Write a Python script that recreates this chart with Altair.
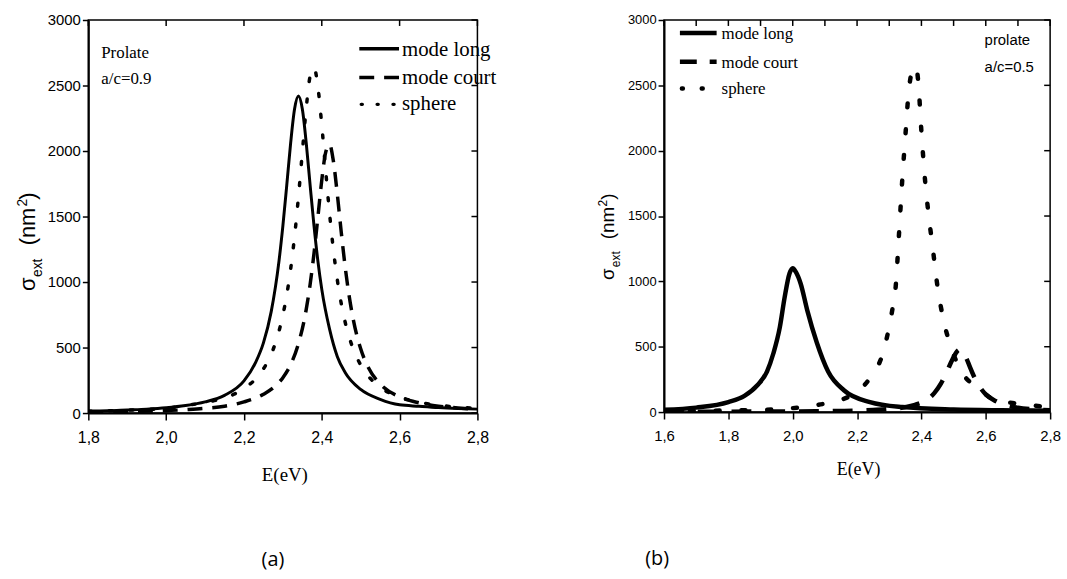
import altair as alt
import pandas as pd

# ---------------- panel (a): prolate a/c = 0.9 ----------------
a_long_E = [1.80, 1.85, 1.90, 1.95, 2.00, 2.05, 2.10, 2.15, 2.20, 2.23, 2.25, 2.27, 2.29, 2.30, 2.31,
            2.32, 2.33, 2.34, 2.35, 2.36, 2.37, 2.38, 2.39, 2.40, 2.42, 2.44, 2.46, 2.50, 2.55, 2.60,
            2.65, 2.70, 2.75, 2.80]
a_long_v = [15, 18, 24, 30, 40, 57, 85, 135, 245, 387, 536, 774, 1160, 1428, 1740,
            2062, 2320, 2420, 2320, 2062, 1740, 1428, 1160, 944, 640, 430, 310, 180, 105, 63,
            52, 42, 35, 30]

a_court_E = [1.80, 1.90, 2.00, 2.05, 2.10, 2.15, 2.20, 2.25, 2.28, 2.30, 2.32, 2.34, 2.36, 2.37, 2.38,
             2.39, 2.40, 2.41, 2.42, 2.43, 2.44, 2.45, 2.46, 2.47, 2.48, 2.50, 2.52, 2.55, 2.60, 2.65,
             2.70, 2.75, 2.80]
a_court_v = [8, 12, 18, 26, 36, 52, 85, 143, 205, 270, 370, 529, 791, 981, 1219,
             1496, 1778, 1990, 2050, 1919, 1668, 1381, 1118, 900, 728, 490, 346, 222, 123, 78,
             53, 39, 29]

a_sphere_E = [1.80, 1.90, 2.00, 2.05, 2.10, 2.15, 2.20, 2.24, 2.26, 2.28, 2.30, 2.31, 2.32, 2.33, 2.34,
              2.35, 2.36, 2.37, 2.38, 2.39, 2.40, 2.41, 2.42, 2.43, 2.44, 2.46, 2.48, 2.50, 2.55, 2.60,
              2.65, 2.70, 2.75, 2.80]
a_sphere_v = [14, 22, 36, 58, 80, 116, 186, 296, 388, 528, 748, 902, 1100, 1347, 1650,
              1990, 2326, 2571, 2636, 2490, 2197, 1851, 1522, 1242, 1015, 695, 495, 367, 198, 123,
              83, 60, 45, 35]

# ---------------- panel (b): prolate a/c = 0.5 ----------------
b_long_E = [1.60, 1.70, 1.80, 1.85, 1.89, 1.92, 1.94, 1.96, 1.975, 1.99, 2.00, 2.01, 2.025, 2.045,
            2.075, 2.11, 2.16, 2.24, 2.34, 2.50, 2.65, 2.80]
b_long_v = [18, 34, 76, 124, 205, 310, 450, 650, 880, 1060, 1100, 1070, 980, 780,
            530, 310, 165, 76, 38, 20, 14, 11]

b_court_E = [1.60, 1.80, 2.00, 2.10, 2.20, 2.25, 2.30, 2.35, 2.38, 2.40, 2.42, 2.44, 2.46, 2.48, 2.50,
             2.51, 2.52, 2.53, 2.54, 2.55, 2.56, 2.57, 2.60, 2.63, 2.66, 2.70, 2.75, 2.80]
b_court_v = [2, 3, 5, 7, 11, 16, 23, 38, 55, 72, 99, 145, 215, 315, 420,
             462, 478, 462, 410, 350, 291, 240, 135, 85, 55, 33, 21, 14]

b_sphere_E = [1.60, 1.70, 1.80, 1.90, 2.00, 2.06, 2.12, 2.18, 2.24, 2.28, 2.30, 2.31, 2.32, 2.33, 2.34,
              2.35, 2.36, 2.37, 2.383, 2.39, 2.40, 2.41, 2.42, 2.435, 2.45, 2.47, 2.49, 2.52, 2.58, 2.63,
              2.69, 2.75, 2.80]
b_sphere_v = [6, 9, 12, 16, 30, 48, 76, 126, 260, 450, 655, 790, 960, 1350, 1760,
              2110, 2440, 2600, 2645, 2530, 2145, 1810, 1560, 1260, 960, 690, 510, 330, 175, 92,
              68, 50, 32]

# ---------------- ticks and labels ----------------
a_xticks = [1.8, 2.0, 2.2, 2.4, 2.6, 2.8]
a_yticks = [0, 250, 500, 750, 1000, 1250, 1500, 1750, 2000, 2250, 2500, 2750, 3000]
b_xticks = [1.6, 1.7, 1.8, 1.9, 2.0, 2.1, 2.2, 2.3, 2.4, 2.5, 2.6, 2.7, 2.8]
b_yticks = [0, 500, 1000, 1500, 2000, 2500, 3000]
series_labels = ["mode long", "mode court", "sphere"]

WA, HA = 392, 396
WB, HB = 389, 395

SERIF = "Liberation Serif"
SANS = "Liberation Sans"
ONE = alt.Data(values=[{}])


def curve(E, v, xs, ys, width, dash=None, cap="butt", xaxis=None, yaxis=None):
    kw = dict(color="black", strokeWidth=width, interpolate="monotone", clip=True, strokeCap=cap)
    if dash:
        kw["strokeDash"] = dash
    xk = dict(scale=xs, title="")
    yk = dict(scale=ys, title="")
    if xaxis is not None:
        xk["axis"] = xaxis
    if yaxis is not None:
        yk["axis"] = yaxis
    return alt.Chart(pd.DataFrame({"E": E, "v": v})).mark_line(**kw).encode(
        x=alt.X("E:Q", **xk),
        y=alt.Y("v:Q", **yk),
    )


def top_ticks(vals, xs):
    return alt.Chart(pd.DataFrame({"t": vals})).mark_rule(color="black", strokeWidth=1.5).encode(
        x=alt.X("t:Q", scale=xs, title=""), y=alt.value(0), y2=alt.value(6))


def right_ticks(vals, ys, W):
    return alt.Chart(pd.DataFrame({"t": vals})).mark_rule(color="black", strokeWidth=1.5).encode(
        y=alt.Y("t:Q", scale=ys, title=""), x=alt.value(W), x2=alt.value(W - 6))


def label(text, x, y, size, font=SERIF, align="left", baseline="alphabetic", angle=0):
    kw = dict(text=text, fontSize=size, font=font, align=align, baseline=baseline, color="black")
    if angle:
        kw["angle"] = angle
    return alt.Chart(ONE).mark_text(**kw).encode(x=alt.value(x), y=alt.value(y))


def leg_line(x0, x1, y, width, dash=None, cap="butt"):
    kw = dict(color="black", strokeWidth=width, strokeCap=cap)
    if dash:
        kw["strokeDash"] = dash
    return alt.Chart(ONE).mark_rule(**kw).encode(x=alt.value(x0), x2=alt.value(x1), y=alt.value(y))


def ytitle(bx, ys, big, small, sup_dx, sub_dx):
    # sigma_ext (nm^2) rotated, built from pieces; bx = baseline x, ys = start y of each piece
    return [
        label("σ", bx, ys[0], big, font=SANS, angle=270),
        label("ext", bx + sub_dx, ys[1], small, font=SANS, angle=270),
        label("(nm", bx, ys[2], big, font=SANS, angle=270),
        label("2", bx - sup_dx, ys[3], small, font=SANS, angle=270),
        label(")", bx, ys[4], big, font=SANS, angle=270),
    ]


fmt_x = "replace(format(datum.value, '.1f'), '.', ',')"

# ---------------- panel (a) ----------------
xs_a = alt.Scale(domain=[1.8, 2.8], nice=False, zero=False)
ys_a = alt.Scale(domain=[0, 3000], nice=False)
xaxis_a = alt.Axis(values=a_xticks, labelExpr=fmt_x, title="", grid=False, tickSize=7,
                   tickWidth=1.5, tickColor="black", domainColor="black", domainWidth=2,
                   labelFont=SANS, labelFontSize=16, labelColor="black", labelPadding=10,
                   labelFlush=False, labelOverlap=False)
yaxis_a = alt.Axis(values=a_yticks, labelExpr="datum.value % 500 == 0 ? format(datum.value, 'd') : ''",
                   title="", grid=False, tickSize=6, tickWidth=1.5, tickColor="black",
                   domainColor="black", domainWidth=2, labelFont=SANS, labelFontSize=15,
                   labelColor="black", labelPadding=2, labelFlush=False, labelOverlap=False)

layers_a = [
    curve(a_long_E, a_long_v, xs_a, ys_a, 3, xaxis=xaxis_a, yaxis=yaxis_a),
    curve(a_court_E, a_court_v, xs_a, ys_a, 3.5, dash=[15, 10]),
    curve(a_sphere_E, a_sphere_v, xs_a, ys_a, 3.5, dash=[3, 18], cap="round"),
    top_ticks(a_xticks, xs_a),
    right_ticks(b_yticks, ys_a, WA),
    leg_line(273, 313, 29, 3.5),
    leg_line(273, 313, 58, 3.5, dash=[15, 10]),
    leg_line(275, 313, 85, 3.5, dash=[1, 15], cap="round"),
    label(series_labels[0], 316, 36, 21),
    label(series_labels[1], 316, 64, 21),
    label(series_labels[2], 316, 91, 21),
    label("Prolate", 13, 38, 17),
    label("a/c=0.9", 13, 64, 17),
    label("E(eV)", 198, 464, 19, align="center"),
    label("(a)", 186, 544, 20, font="Open Sans", align="center", baseline="middle"),
] + ytitle(-54, [273, 259, 227, 188, 181], 22, 14, 8, 7)

panel_a = alt.layer(*layers_a).properties(width=WA, height=HA)

# ---------------- panel (b) ----------------
xs_b = alt.Scale(domain=[1.6, 2.8], nice=False, zero=False)
ys_b = alt.Scale(domain=[0, 3000], nice=False)
xaxis_b = alt.Axis(values=b_xticks,
                   labelExpr="round(datum.value * 10) % 2 == 0 ? " + fmt_x + " : ''",
                   title="", grid=False, tickSize=7, tickWidth=1.5, tickColor="black",
                   domainColor="black", domainWidth=2, labelFont=SANS, labelFontSize=15,
                   labelColor="black", labelPadding=10, labelFlush=False, labelOverlap=False)
yaxis_b = alt.Axis(values=b_yticks, format="d", title="", grid=False, tickSize=6, tickWidth=1.5,
                   tickColor="black", domainColor="black", domainWidth=2, labelFont=SANS,
                   labelFontSize=13, labelColor="black", labelPadding=2, labelFlush=False,
                   labelOverlap=False)

layers_b = [
    curve(b_long_E, b_long_v, xs_b, ys_b, 4.5, xaxis=xaxis_b, yaxis=yaxis_b),
    curve(b_court_E, b_court_v, xs_b, ys_b, 4.5, dash=[20, 14]),
    curve(b_sphere_E, b_sphere_v, xs_b, ys_b, 4.5, dash=[4, 22], cap="round"),
    top_ticks(b_xticks, xs_b),
    right_ticks(b_yticks, ys_b, WB),
    leg_line(16, 53, 13, 4.5),
    leg_line(16, 53, 42, 4.5, dash=[17, 13]),
    leg_line(18, 53, 69, 4.5, dash=[1, 19], cap="round"),
    label(series_labels[0], 58, 19, 17),
    label(series_labels[1], 58, 48, 17),
    label(series_labels[2], 58, 75, 17),
    label("prolate", 323, 25, 15, font=SANS),
    label("a/c=0.5", 323, 52, 15, font=SANS),
    label("E(eV)", 196, 458, 18, align="center"),
    label("(b)", -7, 543, 20, font="Open Sans", align="center", baseline="middle"),
] + ytitle(-50, [262, 249, 221, 188, 181], 19, 12, 7, 6)

panel_b = alt.layer(*layers_b).properties(width=WB, height=HB)

chart = (
    alt.hconcat(panel_a, panel_b, spacing=100)
    .properties(padding={"left": 15, "top": 10, "right": 5, "bottom": 0}, background="white")
    .configure_view(stroke="black", strokeWidth=1.5)
)

chart.save("out.html", embed_options={"renderer": "svg", "actions": False})
